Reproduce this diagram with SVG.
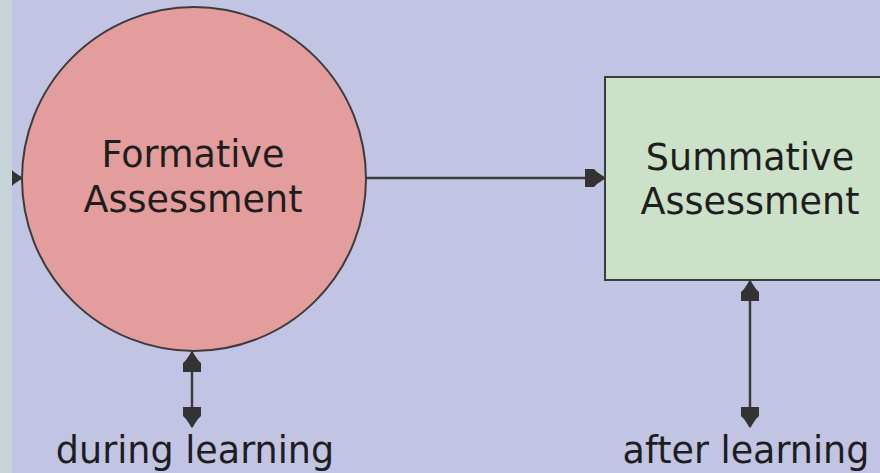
<svg xmlns="http://www.w3.org/2000/svg" width="880" height="473" viewBox="0 0 880 473">
  <style>
    .node-shape { stroke: #3c3c3c; stroke-width: 2; }
    .label { font-family: "DejaVu Sans", Verdana, sans-serif; font-size: 36.5px; fill: #1e1e1e; text-anchor: middle; }
    .edge { stroke: #3c3c3c; stroke-width: 2.5; fill: none; }
  </style>
  <defs>
    <!-- block arrowhead, tip at the origin pointing along +x -->
    <marker id="head" viewBox="-22 -10 24 20" refX="0" refY="0" markerWidth="24" markerHeight="20" markerUnits="userSpaceOnUse" orient="auto-start-reverse">
      <path d="M1,0 L-8,-6 L-11,-9 L-20,-9 L-20,9 L-11,9 L-8,6 Z" fill="#333"/>
    </marker>
  </defs>

  <!-- background -->
  <rect x="0" y="0" width="880" height="473" fill="#c1c5e3"/>

  <!-- connectors -->
  <g id="connectors">
    <line class="edge" x1="-4" y1="178" x2="22" y2="178" marker-end="url(#head)"/>
    <line class="edge" x1="366" y1="178" x2="605" y2="178" marker-end="url(#head)"/>
    <line class="edge" x1="192" y1="352" x2="192" y2="427" marker-start="url(#head)" marker-end="url(#head)"/>
    <line class="edge" x1="750" y1="281" x2="750" y2="427" marker-start="url(#head)" marker-end="url(#head)"/>
  </g>

  <!-- left margin strip -->
  <rect x="0" y="0" width="12" height="473" fill="#c8d3d8"/>

  <g id="formative">
    <circle class="node-shape" cx="194" cy="179" r="172" fill="#e39d9d"/>
    <text class="label" x="193" y="167">Formative</text>
    <text class="label" x="193" y="212">Assessment</text>
  </g>

  <g id="summative">
    <rect class="node-shape" x="605" y="77" width="300" height="203" fill="#cbe2c9"/>
    <text class="label" x="750" y="170">Summative</text>
    <text class="label" x="750" y="214">Assessment</text>
  </g>

  <g id="during">
    <text class="label" x="195" y="463">during learning</text>
  </g>

  <g id="after">
    <text class="label" x="746" y="463">after learning</text>
  </g>
</svg>
